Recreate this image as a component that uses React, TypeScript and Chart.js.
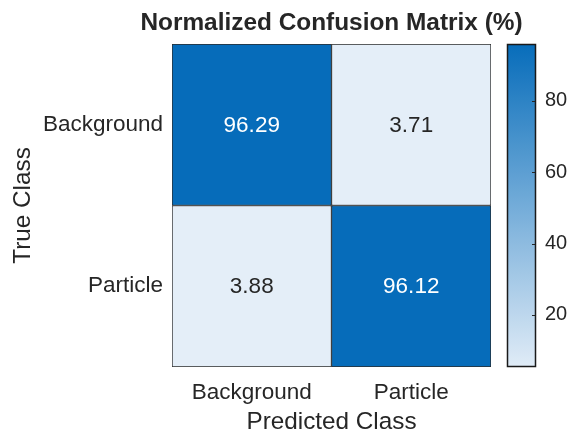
import React, { useEffect, useRef } from 'react';
import { Chart, registerables } from 'chart.js';

Chart.register(...registerables);

// ---- data ----
const predictedClasses = ['Background', 'Particle'];
const trueClasses = ['Background', 'Particle'];
const rowBackground = [96.29, 3.71];
const rowParticle = [3.88, 96.12];
const matrixRows = [rowBackground, rowParticle];
const colorbarTicks = [20, 40, 60, 80];
const colorLimits = [3.71, 96.29];
const colorbarRange = [5.4, 95.9];

const titleText = 'Normalized Confusion Matrix (%)';
const xTitle = 'Predicted Class';
const yTitle = 'True Class';

// ---- style ----
const FONT = "'Liberation Sans', Arial, Helvetica, sans-serif";
const TEXT = '#262626';
const LIGHT = [228, 238, 248];
const DARK = [6, 108, 186];

function colorFor(v: number): string {
  let t = (v - colorLimits[0]) / (colorLimits[1] - colorLimits[0]);
  t = Math.max(0, Math.min(1, t));
  const c = LIGHT.map((l, i) => Math.round(l + (DARK[i] - l) * t));
  return `rgb(${c[0]},${c[1]},${c[2]})`;
}

const heatmapPlugin = {
  id: 'heatmapDecor',
  afterDatasetsDraw(chart: any) {
    const ctx = chart.ctx;
    ctx.save();
    ctx.font = `22.5px ${FONT}`;
    ctx.textAlign = 'center';
    ctx.textBaseline = 'middle';
    chart.data.datasets.forEach((ds: any, di: number) => {
      const meta = chart.getDatasetMeta(di);
      meta.data.forEach((el: any, j: number) => {
        const v = ds.values[j];
        const p = el.getCenterPoint();
        ctx.fillStyle = v > 50 ? '#ffffff' : TEXT;
        ctx.fillText(v.toFixed(2), p.x, p.y + 1);
      });
    });
    ctx.restore();
  },
  afterDraw(chart: any) {
    const ctx = chart.ctx;
    const cb = chart.scales.cb;
    const area = chart.chartArea;
    // title centred over the heatmap
    ctx.save();
    ctx.font = `bold 24.4px ${FONT}`;
    ctx.fillStyle = TEXT;
    ctx.textAlign = 'center';
    ctx.textBaseline = 'middle';
    ctx.fillText(titleText, (area.left + area.right) / 2, area.top - 21);
    ctx.restore();

    const x0 = Math.round(area.right + 16);
    const x1 = Math.round(area.right + 45);
    const top = cb.top;
    const bottom = cb.bottom;
    ctx.save();
    const g = ctx.createLinearGradient(0, top, 0, bottom);
    const n = 24;
    for (let k = 0; k <= n; k++) {
      const v = cb.max - (k / n) * (cb.max - cb.min);
      g.addColorStop(k / n, colorFor(v));
    }
    ctx.fillStyle = g;
    ctx.fillRect(x0, top, x1 - x0, bottom - top);
    ctx.strokeStyle = '#1a1a1a';
    ctx.lineWidth = 1.5;
    ctx.strokeRect(x0 + 0.5, top + 0.5, x1 - x0 - 1, bottom - top - 1);
    ctx.lineWidth = 1;
    ctx.strokeStyle = '#262626';
    colorbarTicks.forEach((t) => {
      const y = Math.round(cb.getPixelForValue(t)) + 0.5;
      ctx.beginPath();
      ctx.moveTo(x1 - 4, y);
      ctx.lineTo(x1 - 1, y);
      ctx.stroke();
    });
    ctx.restore();
  },
};

export default function App() {
  const ref = useRef<HTMLCanvasElement | null>(null);

  useEffect(() => {
    if (!ref.current) return;
    const n = trueClasses.length;
    const datasets = trueClasses.map((cls, i) => {
      const values = matrixRows[i];
      return {
        label: cls,
        values,
        data: predictedClasses.map(() => [n - 1 - i, n - i]),
        backgroundColor: values.map((v) => colorFor(v)),
        borderColor: '#2b2b2b',
        borderWidth: 1,
        borderSkipped: false,
        categoryPercentage: 1,
        barPercentage: 1,
        yAxisID: 'y',
      };
    });

    const chart = new Chart(ref.current, {
      type: 'bar',
      data: { labels: predictedClasses, datasets: datasets as any },
      options: {
        animation: false,
        responsive: false,
        devicePixelRatio: 1,
        layout: { padding: { top: 44, left: 0, right: 0, bottom: 0 } },
        plugins: {
          legend: { display: false },
          tooltip: { enabled: false },
          title: { display: false },
        },
        scales: {
          x: {
            type: 'category',
            stacked: true,
            grid: { display: false, drawTicks: false },
            border: { display: false },
            ticks: { color: TEXT, font: { family: FONT, size: 22.5 }, padding: 12 },
            title: {
              display: true,
              text: xTitle,
              color: TEXT,
              font: { family: FONT, size: 24.3, lineHeight: 0.9 },
              padding: { top: 0, bottom: 0 },
            },
            afterFit: (s: any) => { s.height = 66; s.paddingLeft = 0; s.paddingRight = 0; },
          },
          y: {
            type: 'linear',
            position: 'left',
            min: 0,
            max: 2,
            stacked: false,
            grid: { display: false, drawTicks: false },
            border: { display: false },
            afterBuildTicks: (s: any) => { s.ticks = [{ value: 0.5 }, { value: 1.5 }]; },
            ticks: {
              color: TEXT,
              font: { family: FONT, size: 22.5 },
              padding: 9,
              callback: (v: any) => trueClasses[trueClasses.length - 1 - Math.floor(Number(v))],
            },
            title: {
              display: true,
              text: yTitle,
              color: TEXT,
              font: { family: FONT, size: 24.3, lineHeight: 1.2 },
              padding: { top: 9, bottom: 0 },
            },
            afterFit: (s: any) => { s.width = 172; s.paddingTop = 0; s.paddingBottom = 0; },
          },
          cb: {
            type: 'linear',
            position: 'right',
            min: colorbarRange[0],
            max: colorbarRange[1],
            grid: { display: false, drawTicks: false },
            border: { display: false },
            afterBuildTicks: (s: any) => { s.ticks = colorbarTicks.map((v) => ({ value: v })); },
            ticks: { color: TEXT, font: { family: FONT, size: 20 }, padding: 54 },
            afterFit: (s: any) => { s.width = 81; s.paddingTop = 0; s.paddingBottom = 0; },
          },
        },
      } as any,
      plugins: [heatmapPlugin],
    });
    return () => chart.destroy();
  }, []);

  return (
    <div style={{ position: 'fixed', left: 0, top: 0, width: 572, height: 433, background: '#fff' }}>
      <canvas ref={ref} width={572} height={433} style={{ display: 'block' }} />
    </div>
  );
}
